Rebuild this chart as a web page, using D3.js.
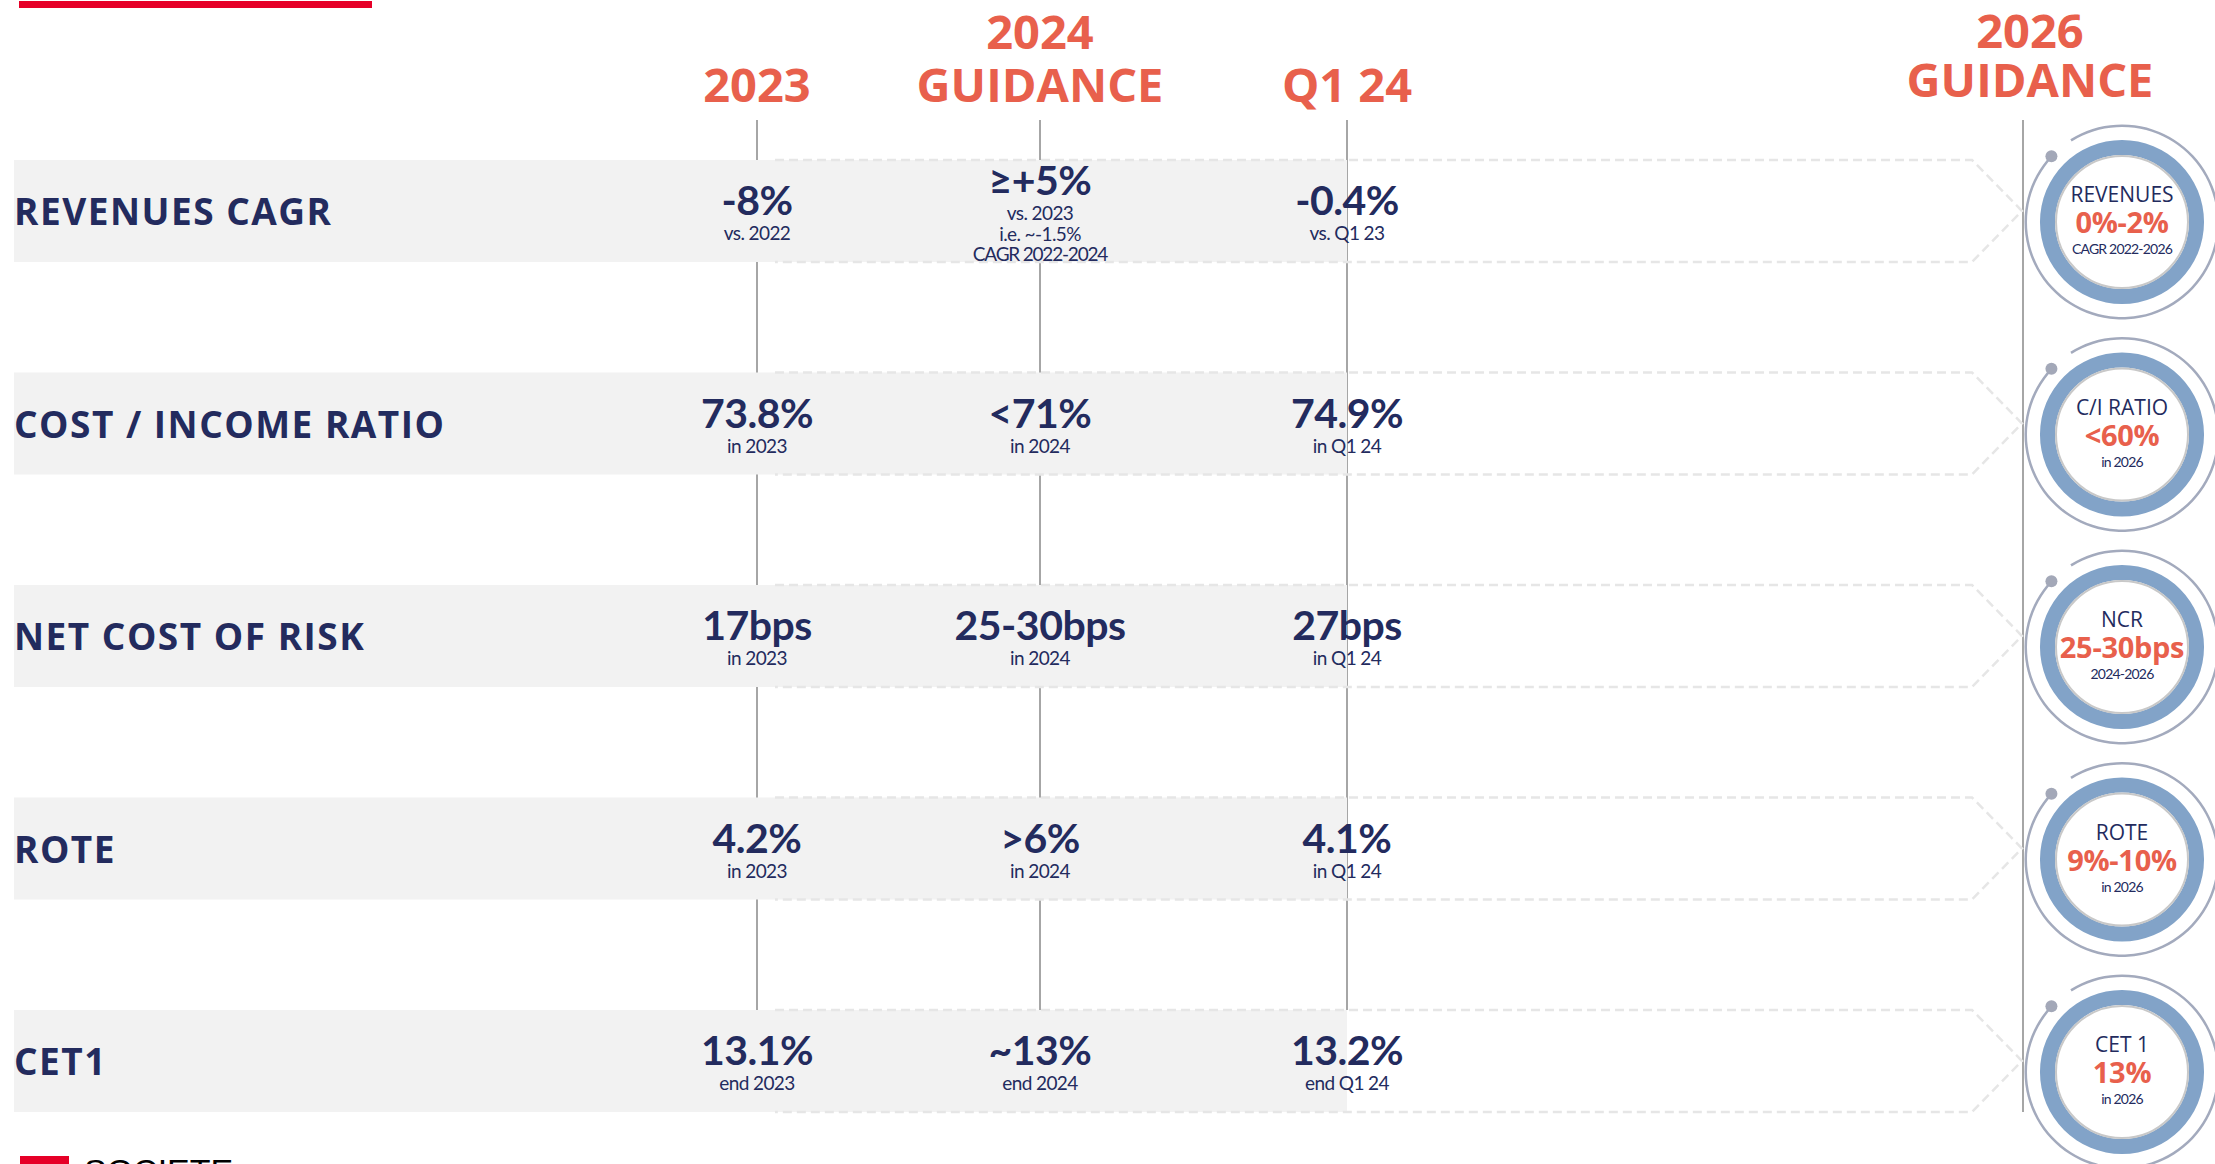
<!DOCTYPE html>
<meta charset="utf-8">

<!-- Load d3.js -->
<script src="https://d3js.org/d3.v7.min.js"></script>

<style>
    body { margin: 0; background: #fff; }
    text { font-family: Lato, "Open Sans", sans-serif; }
</style>

<svg id="my_dataviz" width="2215" height="1164"></svg>
<script>

    // Data
    var metrics = ["REVENUES CAGR", "COST / INCOME RATIO", "NET COST OF RISK", "ROTE", "CET1"];
    var columns = ["2023", "2024 GUIDANCE", "Q1 24"];
    var columnHeaders = [["2023"], ["2024", "GUIDANCE"], ["Q1 24"]];

    var values2023 = ["-8%", "73.8%", "17bps", "4.2%", "13.1%"];
    var notes2023 = [["vs. 2022"], ["in 2023"], ["in 2023"], ["in 2023"], ["end 2023"]];

    var values2024 = ["≥+5%", "<71%", "25-30bps", ">6%", "~13%"];
    var notes2024 = [["vs. 2023", "i.e. ~-1.5%", "CAGR 2022-2024"], ["in 2024"], ["in 2024"], ["in 2024"], ["end 2024"]];

    var valuesQ124 = ["-0.4%", "74.9%", "27bps", "4.1%", "13.2%"];
    var notesQ124 = [["vs. Q1 23"], ["in Q1 24"], ["in Q1 24"], ["in Q1 24"], ["end Q1 24"]];

    var header2026 = ["2026", "GUIDANCE"];
    var titles2026 = ["REVENUES", "C/I RATIO", "NCR", "ROTE", "CET 1"];
    var values2026 = ["0%-2%", "<60%", "25-30bps", "9%-10%", "13%"];
    var notes2026 = ["CAGR 2022-2026", "in 2026", "2024-2026", "in 2026", "in 2026"];

    var navy = "#232b5e",
        red = "#e8604c";

    // The svg
    var svg = d3.select("svg"),
        width = +svg.attr("width"),
        height = +svg.attr("height");

    // Rows and columns
    var y = d3.scaleBand()
        .domain(metrics)
        .range([160, 1112])
        .paddingInner(0.52)
        .paddingOuter(0);

    var x = d3.scaleOrdinal()
        .domain(columns)
        .range([757, 1040, 1347]);

    var xTarget = 2122,
        xDivider = 2023;

    // top red bar
    svg.append("rect")
        .attr("x", 19).attr("y", 1)
        .attr("width", 353).attr("height", 7)
        .attr("fill", "#e60028");

    // vertical lines (behind the bands)
    svg.append("g")
        .selectAll("line")
        .data(columns)
        .enter()
        .append("line")
        .attr("x1", function (d) { return x(d) })
        .attr("x2", function (d) { return x(d) })
        .attr("y1", 120)
        .attr("y2", y(metrics[metrics.length - 1]))
        .style("stroke", "#a6a6a6")
        .style("stroke-width", 2);

    svg.append("line")
        .attr("x1", xDivider).attr("x2", xDivider)
        .attr("y1", 120)
        .attr("y2", y(metrics[metrics.length - 1]) + y.bandwidth())
        .style("stroke", "#a6a6a6")
        .style("stroke-width", 2);

    // grey bands
    svg.append("g")
        .selectAll("rect")
        .data(metrics)
        .enter()
        .append("rect")
        .attr("x", 14)
        .attr("y", function (d) { return y(d) })
        .attr("width", x("Q1 24") - 14)
        .attr("height", y.bandwidth())
        .attr("fill", "#f2f2f2");

    // dashed arrows towards 2026
    svg.append("g")
        .selectAll("path")
        .data(metrics)
        .enter()
        .append("path")
        .attr("d", function (d) {
            var t = y(d), b = t + y.bandwidth(), m = t + y.bandwidth() / 2;
            var p = d3.path();
            p.moveTo(775, t);
            p.lineTo(xDivider - 51, t);
            p.lineTo(xDivider - 1, m);
            p.lineTo(xDivider - 51, b);
            p.lineTo(775, b);
            return p.toString();
        })
        .attr("fill", "none")
        .style("stroke", "#e6e6e6")
        .style("stroke-width", 2.5)
        .style("stroke-dasharray", "9,5");

    // column headers
    columns.forEach(function (c, j) {
        var lines = columnHeaders[j];
        svg.append("g")
            .selectAll("text")
            .data(lines)
            .enter()
            .append("text")
            .attr("x", x(c))
            .attr("y", function (d, i) { return 102 - (lines.length - 1 - i) * 53 })
            .attr("text-anchor", "middle")
            .style("font-family", "'Open Sans'")
            .style("font-weight", 700)
            .style("font-size", "47px")
            .style("fill", red)
            .text(function (d) { return d });
    });

    svg.append("g")
        .selectAll("text")
        .data(header2026)
        .enter()
        .append("text")
        .attr("x", 2030)
        .attr("y", function (d, i) { return 48 + i * 49 })
        .attr("text-anchor", "middle")
        .style("font-family", "'Open Sans'")
        .style("font-weight", 700)
        .style("font-size", "47px")
        .style("fill", red)
        .text(function (d) { return d });

    // row labels
    svg.append("g")
        .selectAll("text")
        .data(metrics)
        .enter()
        .append("text")
        .attr("x", 14)
        .attr("y", function (d) { return y(d) + 65 })
        .style("font-family", "'Open Sans'")
        .style("font-weight", 700)
        .style("font-size", "37px")
        .style("letter-spacing", "1.5px")
        .style("fill", navy)
        .text(function (d) { return d });

    // values per column
    var colValues = [values2023, values2024, valuesQ124];
    var colNotes = [notes2023, notes2024, notesQ124];

    columns.forEach(function (c, j) {
        var g = svg.append("g");
        metrics.forEach(function (m, i) {
            var notes = colNotes[j][i];
            var shift = (notes.length - 1) * 10;
            var top = y(m);
            g.append("text")
                .attr("x", x(c))
                .attr("y", top + 55 - shift)
                .attr("text-anchor", "middle")
                .style("font-weight", 700)
                .style("font-size", "41px")
                .style("letter-spacing", "-0.5px")
                .style("fill", navy)
                .text(colValues[j][i]);
            g.selectAll(null)
                .data(notes)
                .enter()
                .append("text")
                .attr("x", x(c))
                .attr("y", function (d, k) { return top + 80 - shift + k * 20.5 })
                .attr("text-anchor", "middle")
                .style("font-size", "19px")
                .style("letter-spacing", function (d) { return d.length > 12 ? "-1.2px" : "-0.6px" })
                .style("fill", navy)
                .text(function (d) { return d });
        });
    });

    // 2026 targets in rings
    var ring = d3.arc().innerRadius(67).outerRadius(82).startAngle(0).endAngle(2 * Math.PI);
    var outer = d3.arc().innerRadius(95).outerRadius(97.5)
        .startAngle(-32 * Math.PI / 180)
        .endAngle(313 * Math.PI / 180);
    var dotAngle = -47 * Math.PI / 180;

    var targets = svg.append("g")
        .selectAll("g")
        .data(metrics)
        .enter()
        .append("g")
        .attr("transform", function (d) {
            return "translate(" + xTarget + "," + (y(d) + y.bandwidth() / 2 + 11) + ")"
        });

    targets.append("path").attr("d", outer).attr("fill", "#a3aabd");
    targets.append("circle")
        .attr("cx", 96.5 * Math.sin(dotAngle))
        .attr("cy", -96.5 * Math.cos(dotAngle))
        .attr("r", 6)
        .attr("fill", "#a3a8b8");
    targets.append("path").attr("d", ring).attr("fill", "#82a3c8");
    targets.append("circle")
        .attr("r", 66)
        .attr("fill", "#fff")
        .style("stroke", "#c8c8c8")
        .style("stroke-width", 2);

    targets.append("text")
        .attr("y", -20)
        .attr("text-anchor", "middle")
        .style("font-family", "'Open Sans'")
        .style("font-size", "21px")
        .style("fill", navy)
        .text(function (d, i) { return titles2026[i] });

    targets.append("text")
        .attr("y", 11)
        .attr("text-anchor", "middle")
        .style("font-family", "'Open Sans'")
        .style("font-weight", 700)
        .style("font-size", "29px")
        .style("letter-spacing", "-0.3px")
        .style("fill", red)
        .text(function (d, i) { return values2026[i] });

    targets.append("text")
        .attr("y", 32)
        .attr("text-anchor", "middle")
        .style("font-size", "14px")
        .style("letter-spacing", "-0.8px")
        .style("fill", navy)
        .text(function (d, i) { return notes2026[i] });

    // logo, cut at the bottom edge
    svg.append("rect")
        .attr("x", 20).attr("y", 1156)
        .attr("width", 49).attr("height", 20)
        .attr("fill", "#e60028");
    svg.append("text")
        .attr("x", 84).attr("y", 1183)
        .style("font-family", "'Liberation Sans'")
        .style("font-size", "34px")
        .style("fill", "#000")
        .text("SOCIETE");

</script>
